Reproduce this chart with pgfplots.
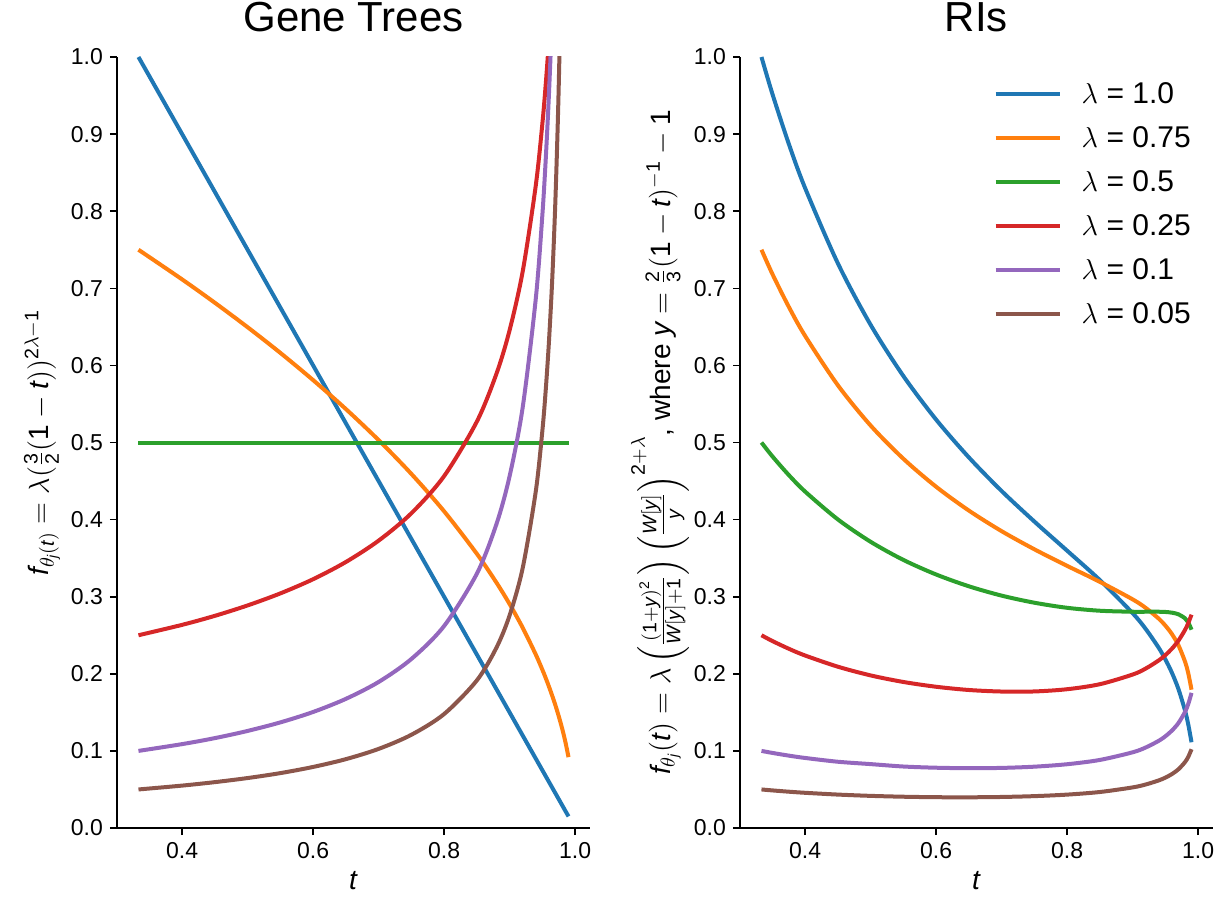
\documentclass[border=0pt]{standalone}
\usepackage{amsmath}
\usepackage{pgfplots}
\pgfplotsset{compat=1.18}
\usepackage{fontspec}
\setmainfont{Liberation Sans}
\newcommand{\mi}[1]{\text{\itshape #1}}
\newcommand{\nm}[1]{\text{#1}}

\definecolor{tabblue}{HTML}{1F77B4}
\definecolor{taborange}{HTML}{FF7F0E}
\definecolor{tabgreen}{HTML}{2CA02C}
\definecolor{tabred}{HTML}{D62728}
\definecolor{tabpurple}{HTML}{9467BD}
\definecolor{tabbrown}{HTML}{8C564B}

\pgfplotsset{
  panel/.style={
    scale only axis,
    width=236.5pt, height=385.5pt,
    xmin=0.3005, xmax=1.0228,
    ymin=0, ymax=1,
    xtick={0.4,0.6,0.8,1.0},
    ytick={0,0.1,...,1.0},
    axis x line*=bottom, axis y line*=left,
    axis line style={-, line width=0.8pt},
    tick align=outside, major tick length=3.5pt,
    every tick/.style={black, line width=0.8pt},
    tick label style={font=\fontsize{11.5}{13}\selectfont},
    /pgf/number format/.cd, fixed, fixed zerofill, precision=1, assume math mode=true,
    /pgfplots/.cd,
    title style={at={(axis description cs:0.5,1.018)}, anchor=base, font=\fontsize{21}{24}\selectfont},
    xlabel style={at={(axis description cs:0.5,-0.0804)}, anchor=base, font=\fontsize{14}{16}\selectfont},
    every axis plot/.append style={line width=2pt, smooth, tension=0.5},
  },
}

% Gene trees: t, lambda = 0.75, 0.25, 0.1, 0.05
\pgfplotstableread{
t     o       r       p       b
0.3333 0.7500 0.2500 0.1000 0.0500
0.40  0.7115 0.2635 0.1088 0.0550
0.45  0.6812 0.2752 0.1166 0.0595
0.50  0.6495 0.2887 0.1259 0.0648
0.55  0.6162 0.3043 0.1370 0.0712
0.60  0.5809 0.3227 0.1505 0.0792
0.65  0.5434 0.3450 0.1675 0.0893
0.70  0.5031 0.3727 0.1894 0.1026
0.75  0.4593 0.4082 0.2192 0.1209
0.80  0.4108 0.4564 0.2620 0.1478
0.85  0.3557 0.5271 0.3298 0.1914
0.88  0.3182 0.5893 0.3943 0.2340
0.90  0.2905 0.6455 0.4562 0.2757
0.92  0.2598 0.7217 0.5454 0.3371
0.94  0.2250 0.8333 0.6864 0.4366
0.95  0.2054 0.9129 0.7943 0.5146
0.955 0.1949 0.9623 0.8641 0.5657
0.96  0.1837 1.0206 0.9495 0.6290
0.965 0.1718 1.0911 1.0565 0.7093
0.97  0.1591 1.1785 1.1951 0.8148
0.975 0.1452 1.2910 1.3827 0.9603
0.98  0.1299 1.4434 1.6532 1.1737
0.985 0.1125 1.6667 2.0810 1.5205
0.99  0.0919 2.0412 2.8780 2.1910
}\genetrees

% RIs: t, lambda = 1.0, 0.75, 0.5, 0.25, 0.1, 0.05
\pgfplotstableread{
t      a      o      g      r      p       b
0.3333 1.0000 0.7500 0.5000 0.2500 0.10000 0.05000
0.35   0.9521 0.7185 0.4820 0.2425 0.09738 0.04875
0.375  0.8874 0.6760 0.4578 0.2325 0.09388 0.04709
0.40   0.8299 0.6382 0.4363 0.2237 0.09084 0.04565
0.45   0.7323 0.5742 0.4002 0.2092 0.08593 0.04335
0.50   0.6526 0.5220 0.3712 0.1979 0.08287 0.04168
0.55   0.5862 0.4789 0.3477 0.1894 0.07975 0.04056
0.60   0.5297 0.4426 0.3288 0.1832 0.07818 0.03994
0.65   0.4807 0.4117 0.3135 0.1790 0.07756 0.03982
0.70   0.4371 0.3850 0.3014 0.1770 0.07795 0.04025
0.75   0.3975 0.3615 0.2922 0.1771 0.07954 0.04134
0.80   0.3597 0.3400 0.2856 0.1800 0.08271 0.04331
0.85   0.3216 0.3193 0.2818 0.1865 0.08827 0.04668
0.90   0.2787 0.2966 0.2805 0.1990 0.09817 0.05264
0.92   0.2582 0.2855 0.2805 0.2068 0.10440 0.05642
0.94   0.2336 0.2715 0.2805 0.2174 0.11310 0.06173
0.95   0.2188 0.2626 0.2802 0.2242 0.11890 0.06531
0.96   0.2015 0.2516 0.2793 0.2325 0.12630 0.06991
0.97   0.1803 0.2371 0.2772 0.2430 0.13610 0.07615
0.98   0.1526 0.2160 0.2720 0.2568 0.15040 0.08540
0.985  0.1344 0.2008 0.2667 0.2657 0.16070 0.09225
0.99   0.1112 0.1794 0.2572 0.2767 0.17530 0.10216
}\ris

\begin{document}
\begin{tikzpicture}
\useasboundingbox (0,0) rectangle (611.5pt,448pt);

% left panel
\begin{axis}[panel,
  at={(58.5pt,34pt)}, anchor=south west,
  title={Gene Trees},
  xlabel={\textit{t}},
  ylabel={$\mi{f}_{\theta_{\mi{j}}(\mi{t})} = \lambda(\frac{\nm{3}}{\nm{2}}(\nm{1} - \mi{t}))^{\nm{2}\lambda - \nm{1}}$},
  ylabel style={at={(axis description cs:-0.1586,0.5)}, anchor=center, font=\fontsize{14}{16}\selectfont},
]
\addplot[tabblue, sharp plot] coordinates {(0.3333,1.0) (0.99,0.015)};
\addplot[taborange] table[x=t, y=o] {\genetrees};
\addplot[tabgreen, sharp plot] coordinates {(0.3333,0.5) (0.99,0.5)};
\addplot[tabred] table[x=t, y=r] {\genetrees};
\addplot[tabpurple] table[x=t, y=p] {\genetrees};
\addplot[tabbrown] table[x=t, y=b] {\genetrees};
\end{axis}

% right panel
\begin{axis}[panel,
  at={(370pt,34pt)}, anchor=south west,
  title={RIs},
  xlabel={\textit{t}},
  ylabel={$\mi{f}_{\theta_{\mi{j}}}(\mi{t}) = \lambda\left(\frac{(\nm{1}+\mi{y})^{\nm{2}}}{\mi{W}[\mi{y}]+\nm{1}}\right)\left(\frac{\mi{W}[\mi{y}]}{\mi{y}}\right)^{\nm{2}+\lambda}$, where $\mi{y} = \frac{\nm{2}}{\nm{3}}(\nm{1} - \mi{t})^{-\nm{1}} - \nm{1}$},
  ylabel style={at={(axis description cs:-0.169,0.5)}, anchor=center, font=\fontsize{14}{16}\selectfont},
  legend style={at={(axis description cs:0.975,0.978)}, anchor=north east, draw=none, fill=none,
    font=\fontsize{15}{17}\selectfont, row sep=6pt,
    /tikz/every odd column/.append style={column sep=8pt}},
  legend cell align=left,
  legend image code/.code={\draw[#1, sharp plot] plot coordinates {(0pt,0pt) (16pt,0pt) (32pt,0pt)};},
]
\addplot[tabblue] table[x=t, y=a] {\ris};
\addlegendentry{$\lambda$ = 1.0}
\addplot[taborange] table[x=t, y=o] {\ris};
\addlegendentry{$\lambda$ = 0.75}
\addplot[tabgreen] table[x=t, y=g] {\ris};
\addlegendentry{$\lambda$ = 0.5}
\addplot[tabred] table[x=t, y=r] {\ris};
\addlegendentry{$\lambda$ = 0.25}
\addplot[tabpurple] table[x=t, y=p] {\ris};
\addlegendentry{$\lambda$ = 0.1}
\addplot[tabbrown] table[x=t, y=b] {\ris};
\addlegendentry{$\lambda$ = 0.05}
\end{axis}
\end{tikzpicture}
\end{document}
